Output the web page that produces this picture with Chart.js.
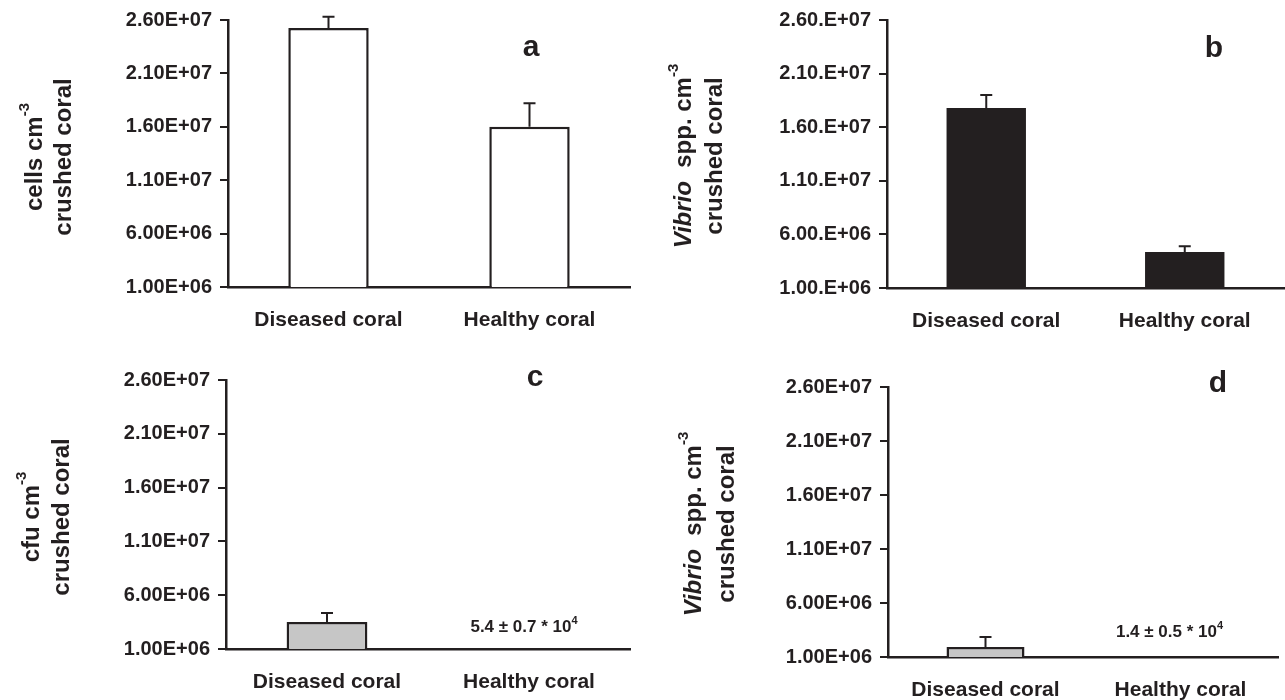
<!DOCTYPE html>
<html>
<head>
<meta charset="utf-8">
<title>Bacteria in diseased and healthy coral</title>
<script src="https://cdn.jsdelivr.net/npm/chart.js"></script>
<style>
  body { margin: 0; background: #fff; }
  #wrap { position: relative; width: 1285px; height: 700px; }
  .panel { position: absolute; }
</style>
</head>
<body>
<div id="wrap">
  <div class="panel" style="left:0;top:0;width:642px;height:350px"><canvas id="chartA"></canvas></div>
  <div class="panel" style="left:642px;top:0;width:643px;height:350px"><canvas id="chartB"></canvas></div>
  <div class="panel" style="left:0;top:350px;width:642px;height:350px"><canvas id="chartC"></canvas></div>
  <div class="panel" style="left:642px;top:350px;width:643px;height:350px"><canvas id="chartD"></canvas></div>
</div>

<script>
  // categories and axis range shared by all four panels
  var categories = ['Diseased coral', 'Healthy coral'];
  var yMin = 1.0e6;
  var yMax = 2.6e7;
  var yStep = 5.0e6;

  // a: total cells, b: Vibrio cells (counts per cm-3 crushed coral)
  var totalCells = [2.525e7, 1.60e7];
  var totalCellsErr = [1.05e6, 2.2e6];
  var vibrioCells = [1.78e7, 4.35e6];
  var vibrioCellsErr = [1.2e6, 0.55e6];

  // c: culturable bacteria (cfu), d: culturable Vibrio
  var cultCfu = [3.5e6, 5.4e4];
  var cultCfuErr = [0.85e6, 0.7e4];
  var cultVibrio = [1.93e6, 1.4e4];
  var cultVibrioErr = [0.92e6, 0.5e4];

  var ink = '#231f20';
  var bold = 'bold ';
  var family = '"Liberation Sans", Arial, sans-serif';

  // 2.60E+07 style labels (panel b has an extra dot)
  function sciLabel(v, dotted) {
    var e = Math.floor(Math.log10(v) + 1e-9);
    var m = v / Math.pow(10, e);
    return m.toFixed(2) + (dotted ? '.' : '') + 'E+' + String(e).padStart(2, '0');
  }

  // draw text made of runs (italic / superscript) centred at cx, cy
  function drawRuns(ctx, runs, cx, cy, rotated) {
    ctx.save();
    ctx.translate(cx, cy);
    if (rotated) ctx.rotate(-Math.PI / 2);
    var total = 0;
    runs.forEach(function (r) {
      ctx.font = r.font;
      r.w = ctx.measureText(r.text).width;
      total += r.w;
    });
    var x = -total / 2;
    ctx.fillStyle = ink;
    ctx.textAlign = 'left';
    ctx.textBaseline = rotated ? 'middle' : 'alphabetic';
    runs.forEach(function (r) {
      ctx.font = r.font;
      ctx.fillText(r.text, x, r.rise || 0);
      x += r.w;
    });
    ctx.restore();
  }

  var extras = {
    id: 'extras',
    afterDatasetsDraw: function (chart) {
      var o = chart.options.plugins.extras;
      var ctx = chart.ctx;
      var y = chart.scales.y;
      var meta = chart.getDatasetMeta(0);
      var vals = chart.data.datasets[0].data;

      // upper error bars
      ctx.save();
      ctx.strokeStyle = ink;
      ctx.lineWidth = 2;
      vals.forEach(function (v, i) {
        if (v < y.min) return;
        var x = meta.data[i].x;
        var y0 = y.getPixelForValue(v);
        var y1 = y.getPixelForValue(v + o.errors[i]);
        ctx.beginPath();
        ctx.moveTo(x, y0);
        ctx.lineTo(x, y1);
        ctx.moveTo(x - 6, y1);
        ctx.lineTo(x + 6, y1);
        ctx.stroke();
      });
      ctx.restore();

      // values too small for the axis are written as text
      vals.forEach(function (v, i) {
        if (v >= y.min) return;
        var x = chart.scales.x.getPixelForValue(i) + o.noteDx;
        var by = y.bottom - o.noteLift;
        drawRuns(ctx, [
          { text: (v / 1e4).toFixed(1) + ' \u00b1 ' + (o.errors[i] / 1e4).toFixed(1) + ' * 10', font: bold + '17px ' + family },
          { text: '4', font: bold + '11px ' + family, rise: -8 }
        ], x, by, false);
      });

      // y title (two rotated lines)
      o.title.forEach(function (line, k) {
        drawRuns(ctx, line, o.titleX[k], o.titleY, true);
      });

      // panel letter
      ctx.save();
      ctx.fillStyle = ink;
      ctx.font = bold + '30px ' + family;
      ctx.textAlign = 'center';
      ctx.textBaseline = 'alphabetic';
      ctx.fillText(o.letter.text, o.letter.x, o.letter.y);
      ctx.restore();
    }
  };

  var tFont = bold + '24px ' + family;
  var tItal = 'italic bold 24px ' + family;
  var tSup = bold + '15px ' + family;

  function makePanel(id, values, errors, fill, p) {
    var ctx = document.getElementById(id).getContext('2d');
    return new Chart(ctx, {
      type: 'bar',
      data: {
        labels: categories,
        datasets: [{
          data: values,
          backgroundColor: fill,
          borderColor: ink,
          borderWidth: p.barBorder === undefined ? 2.5 : p.barBorder,
          borderSkipped: 'start',
          barPercentage: 0.4,
          categoryPercentage: 1,
          clip: 0
        }]
      },
      options: {
        responsive: true,
        maintainAspectRatio: false,
        animation: false,
        events: [],
        layout: { padding: { top: p.padTop, right: p.padRight, left: 0, bottom: 0 } },
        plugins: {
          legend: { display: false },
          tooltip: { enabled: false },
          extras: {
            errors: errors,
            title: p.title,
            titleX: p.titleX,
            titleY: p.titleY,
            letter: p.letter,
            noteDx: p.noteDx || 0,
            noteLift: p.noteLift || 0
          }
        },
        scales: {
          x: {
            grid: { display: false, drawTicks: false },
            border: { display: true, color: ink, width: 2.5 },
            ticks: { color: ink, font: { family: family, size: 21, weight: 'bold' }, padding: 21 },
            afterFit: function (s) { s.height = p.xHeight; }
          },
          y: {
            min: yMin,
            max: yMax,
            grid: { display: true, drawOnChartArea: false, drawTicks: true, tickLength: 8, color: ink, lineWidth: 2 },
            border: { display: true, color: ink, width: 2.5 },
            ticks: {
              stepSize: yStep,
              color: ink,
              padding: 8,
              font: { family: family, size: 20, weight: 'bold' },
              callback: function (v) { return sciLabel(v, p.dotted); }
            },
            afterFit: function (s) { s.width = p.yWidth; }
          }
        }
      },
      plugins: [extras]
    });
  }

  makePanel('chartA', totalCells, totalCellsErr, '#ffffff', {
    yWidth: 228, xHeight: 63, padTop: 20, padRight: 12,
    title: [
      [{ text: 'cells cm', font: tFont }, { text: '-3', font: tSup, rise: -10 }],
      [{ text: 'crushed coral', font: tFont }]
    ],
    titleX: [35, 64], titleY: 157,
    letter: { text: 'a', x: 531, y: 56 }
  });

  makePanel('chartB', vibrioCells, vibrioCellsErr, ink, {
    yWidth: 245, xHeight: 62, padTop: 19, padRight: 1, dotted: true, barBorder: 0,
    title: [
      [{ text: 'Vibrio', font: tItal }, { text: '  spp. cm', font: tFont }, { text: '-3', font: tSup, rise: -10 }],
      [{ text: 'crushed coral', font: tFont }]
    ],
    titleX: [42, 73], titleY: 156,
    letter: { text: 'b', x: 572, y: 57 }
  });

  makePanel('chartC', cultCfu, cultCfuErr, '#c6c6c6', {
    yWidth: 226, xHeight: 51, padTop: 30, padRight: 12,
    title: [
      [{ text: 'cfu cm', font: tFont }, { text: '-3', font: tSup, rise: -10 }],
      [{ text: 'crushed coral', font: tFont }]
    ],
    titleX: [32, 62], titleY: 167,
    letter: { text: 'c', x: 535, y: 36 },
    noteDx: -5, noteLift: 17
  });

  makePanel('chartD', cultVibrio, cultVibrioErr, '#c6c6c6', {
    yWidth: 246, xHeight: 43, padTop: 37, padRight: 7,
    title: [
      [{ text: 'Vibrio', font: tItal }, { text: '  spp. cm', font: tFont }, { text: '-3', font: tSup, rise: -10 }],
      [{ text: 'crushed coral', font: tFont }]
    ],
    titleX: [52, 85], titleY: 174,
    letter: { text: 'd', x: 576, y: 42 },
    noteDx: -11, noteLift: 20
  });
</script>
</body>
</html>
